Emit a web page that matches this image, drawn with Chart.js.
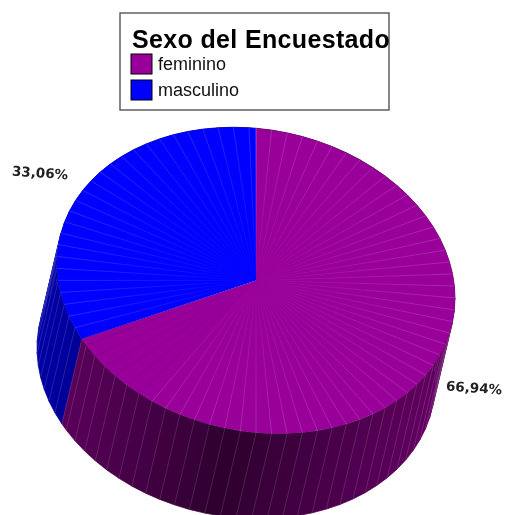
<!DOCTYPE html>
<html>
<head>
<meta charset="utf-8">
<style>
    html, body { margin: 0; padding: 0; background: #fff; overflow: hidden; }
</style>
<script src="https://cdn.jsdelivr.net/npm/chart.js@4"></script>
</head>
<body>
<canvas id="pie" width="505" height="515"></canvas>
<script>
const legendTitle = 'Sexo del Encuestado';
const categories = ['feminino', 'masculino'];
const percentages = [66.94, 33.06];
const sliceColors = ['#990099', '#0000ff'];
const sliceRgb = [[153, 0, 153], [0, 0, 255]];

// la inclinación de la torta 3D
const SQUASH = 0.765, SHEAR = 0.088;
const DEPTH_X = -20, DEPTH_Y = 85;
const FACET = Math.PI * 2 / 80;
const LABEL_SPOTS = [[474, 389], [40, 174]];

function project(arc, angle, radius) {
    const dx = radius * Math.cos(angle);
    const dy = radius * Math.sin(angle);
    return { x: arc.x + dx, y: arc.y + SHEAR * dx + SQUASH * dy };
}

function facetAngles(arc) {
    const list = [];
    for (let a = arc.startAngle; a < arc.endAngle - 0.001; a += FACET) list.push(a);
    list.push(arc.endAngle);
    return list;
}

const pie3d = {
    id: 'pie3d',
    beforeDatasetsDraw(chart) {
        const ctx = chart.ctx;
        const faces = [];
        chart.getDatasetMeta(0).data.forEach((el, i) => {
            const arc = el.getProps(['x', 'y', 'startAngle', 'endAngle', 'outerRadius'], true);
            const angles = facetAngles(arc);
            for (let k = 0; k < angles.length - 1; k++) {
                const p1 = project(arc, angles[k], arc.outerRadius);
                const p2 = project(arc, angles[k + 1], arc.outerRadius);
                faces.push({ p1, p2, i, mid: (angles[k] + angles[k + 1]) / 2 });
            }
        });
        // de atrás hacia adelante
        faces.sort((a, b) => (a.p1.y + a.p2.y) - (b.p1.y + b.p2.y));
        faces.forEach(f => {
            // más oscuro abajo, más claro a los lados
            const shade = 0.3 + 0.35 * Math.abs(Math.sin(f.mid - Math.PI * 0.53));
            const rgb = sliceRgb[f.i].map(c => Math.round(c * shade));
            ctx.beginPath();
            ctx.moveTo(f.p1.x, f.p1.y);
            ctx.lineTo(f.p2.x, f.p2.y);
            ctx.lineTo(f.p2.x + DEPTH_X, f.p2.y + DEPTH_Y);
            ctx.lineTo(f.p1.x + DEPTH_X, f.p1.y + DEPTH_Y);
            ctx.closePath();
            ctx.fillStyle = `rgb(${rgb.join(',')})`;
            ctx.strokeStyle = ctx.fillStyle;
            ctx.lineWidth = 0.8;
            ctx.fill();
            ctx.stroke();
        });
        faces.forEach(f => {
            ctx.beginPath();
            ctx.moveTo(f.p1.x, f.p1.y);
            ctx.lineTo(f.p1.x + DEPTH_X, f.p1.y + DEPTH_Y);
            ctx.strokeStyle = 'rgba(255,255,255,0.22)';
            ctx.lineWidth = 0.5;
            ctx.stroke();
        });
        // la cara de arriba se dibuja con la transformación
        const first = chart.getDatasetMeta(0).data[0];
        ctx.save();
        ctx.translate(first.x, first.y);
        ctx.transform(1, SHEAR, 0, SQUASH, 0, 0);
        ctx.translate(-first.x, -first.y);
    },
    afterDatasetsDraw(chart) {
        const ctx = chart.ctx;
        ctx.restore();
        chart.getDatasetMeta(0).data.forEach(el => {
            const arc = el.getProps(['x', 'y', 'startAngle', 'endAngle', 'outerRadius'], true);
            facetAngles(arc).forEach(a => {
                const p = project(arc, a, arc.outerRadius);
                // las líneas se desvanecen hacia el centro
                const deg = (a * 180 / Math.PI + 360) % 360;
                const tint = (deg > 125 && deg < 152) ? '70,0,140' : '255,255,255';
                const alpha = (deg > 125 && deg < 152) ? 0.6 : 0.32;
                const grad = ctx.createLinearGradient(arc.x, arc.y, p.x, p.y);
                grad.addColorStop(0, `rgba(${tint},0)`);
                grad.addColorStop(0.35, `rgba(${tint},${alpha * 0.4})`);
                grad.addColorStop(1, `rgba(${tint},${alpha})`);
                ctx.beginPath();
                ctx.moveTo(arc.x, arc.y);
                ctx.lineTo(p.x, p.y);
                ctx.strokeStyle = grad;
                ctx.lineWidth = 0.5;
                ctx.stroke();
            });
        });
    },
    afterDraw(chart) {
        const ctx = chart.ctx;
        // etiquetas de porcentaje
        ctx.save();
        ctx.font = 'bold 13.5px "DejaVu Sans"';
        ctx.fillStyle = '#222';
        ctx.textAlign = 'center';
        ctx.textBaseline = 'middle';
        percentages.forEach((v, i) => {
            ctx.save();
            ctx.translate(LABEL_SPOTS[i][0], LABEL_SPOTS[i][1]);
            ctx.rotate(0.07);
            ctx.fillText(v.toFixed(2).replace('.', ',') + '%', 0, 0);
            ctx.restore();
        });
        ctx.restore();

        // leyenda con recuadro
        ctx.save();
        ctx.fillStyle = '#fff';
        ctx.fillRect(120, 13, 269, 97);
        ctx.strokeStyle = '#555';
        ctx.lineWidth = 1.4;
        ctx.strokeRect(120, 13, 269, 97);
        ctx.fillStyle = '#000';
        ctx.textAlign = 'left';
        ctx.textBaseline = 'alphabetic';
        ctx.font = 'bold 25px "Liberation Sans", Arial, sans-serif';
        ctx.letterSpacing = '0.35px';
        ctx.fillText(legendTitle, 132, 48);
        ctx.letterSpacing = '0px';
        ctx.font = '18px "Liberation Sans", Arial, sans-serif';
        categories.forEach((name, i) => {
            const top = 54 + i * 26;
            ctx.fillStyle = sliceColors[i];
            ctx.fillRect(131, top, 21, 20);
            ctx.strokeStyle = '#000';
            ctx.lineWidth = 1;
            ctx.strokeRect(131, top, 21, 20);
            ctx.fillStyle = '#111';
            ctx.fillText(name, 158, top + 16);
        });
        ctx.restore();
    }
};

new Chart(document.getElementById('pie').getContext('2d'), {
    type: 'pie',
    data: {
        labels: categories,
        datasets: [{
            data: percentages,
            backgroundColor: sliceColors,
            borderWidth: 0,
            clip: false
        }]
    },
    options: {
        responsive: false,
        animation: false,
        radius: 199,
        layout: { padding: { left: 7, top: 46 } },
        plugins: {
            legend: { display: false },
            tooltip: { enabled: false }
        }
    },
    plugins: [pie3d]
});
</script>
</body>
</html>
